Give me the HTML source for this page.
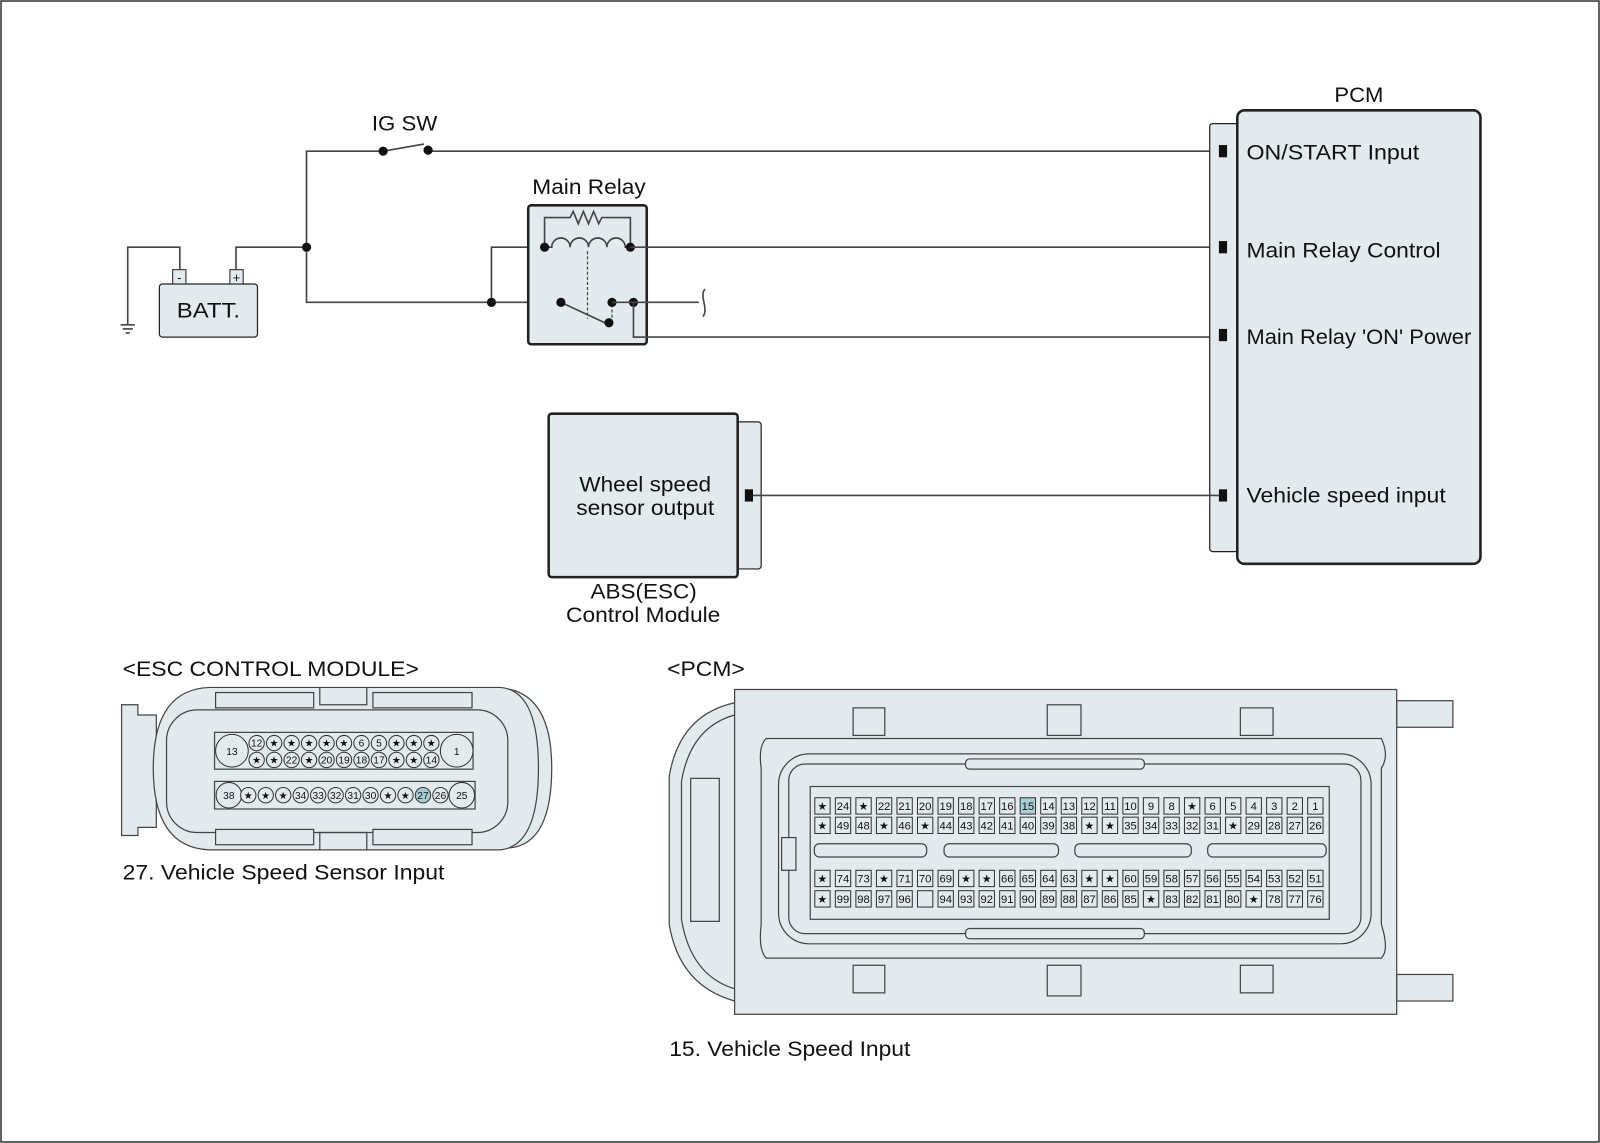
<!DOCTYPE html>
<html><head><meta charset="utf-8"><style>
html,body{margin:0;padding:0;background:#fff}
svg{display:block}
text{font-family:"Liberation Sans",Arial,sans-serif;fill:#111}
.w{stroke:#444;stroke-width:1.6;fill:none}
.b{fill:#e3eaed;stroke:#222}
.pp rect{fill:#e3eaed;stroke:#333;stroke-width:1}
.pp text{font-size:11px;text-anchor:middle}
.ep circle{fill:#e3eaed;stroke:#333;stroke-width:1}
.ep text{font-size:10px;text-anchor:middle}
.s{font-size:9px}
</style></head><body>
<svg width="1600" height="1143" viewBox="0 0 1566 1119" preserveAspectRatio="none" xmlns="http://www.w3.org/2000/svg">
<rect x="1" y="1" width="1564" height="1117" fill="#fff" stroke="#333" stroke-width="1.5"/>

<!-- wiring -->
<text x="364" y="128" font-size="21" textLength="64" lengthAdjust="spacingAndGlyphs">IG SW</text>
<polyline class="w" points="300,242 300,148 375,148"/>
<line class="w" x1="375" y1="148" x2="415" y2="141"/>
<line class="w" x1="419" y1="148" x2="1193" y2="148"/>
<circle cx="375" cy="148" r="4.5" fill="#111"/><circle cx="419" cy="147" r="4.5" fill="#111"/>

<rect class="b" x="156" y="278" width="96" height="52" rx="3" stroke-width="1.2"/>
<rect class="b" x="169" y="264" width="13" height="14" stroke-width="1"/>
<rect class="b" x="225" y="264" width="13" height="14" stroke-width="1"/>
<text x="175.5" y="276" font-size="13" text-anchor="middle">-</text>
<text x="231.5" y="276" font-size="13" text-anchor="middle">+</text>
<text x="173" y="311" font-size="21" textLength="62" lengthAdjust="spacingAndGlyphs">BATT.</text>
<polyline class="w" points="176,264 176,242 125,242 125,318"/>
<line class="w" x1="118" y1="318" x2="132" y2="318"/>
<line class="w" x1="120" y1="322" x2="130" y2="322"/>
<line class="w" x1="123" y1="326" x2="127" y2="326"/>
<polyline class="w" points="231,264 231,242 300,242 300,296 549,296"/>
<circle cx="300" cy="242" r="4.5" fill="#111"/>
<polyline class="w" points="481,296 481,242 533,242"/>
<circle cx="481" cy="296" r="4.5" fill="#111"/>

<text x="521" y="190" font-size="21" textLength="111" lengthAdjust="spacingAndGlyphs">Main Relay</text>
<rect class="b" x="517" y="201" width="116" height="136" rx="3" stroke-width="2.5"/>
<polyline class="w" points="533,242 533,213 558,213 561,207 566,219 571,207 576,219 581,207 586,219 589,213 617,213 617,242"/>
<path class="w" d="M533,242 L540,242 a9,9 0 0 1 18,0 a9,9 0 0 1 18,0 a9,9 0 0 1 18,0 a9,9 0 0 1 18,0 L617,242"/>
<line x1="575" y1="246" x2="575" y2="312" stroke="#444" stroke-width="1.2" stroke-dasharray="3,2"/>
<line x1="599" y1="298" x2="599" y2="314" stroke="#444" stroke-width="1.2" stroke-dasharray="3,2"/>
<circle cx="533" cy="242" r="4.5" fill="#111"/><circle cx="617" cy="242" r="4.5" fill="#111"/>
<line class="w" x1="617" y1="242" x2="1193" y2="242"/>
<line class="w" x1="549" y1="296" x2="592" y2="316"/>
<circle cx="549" cy="296" r="4.5" fill="#111"/><circle cx="596" cy="316" r="4.5" fill="#111"/>
<circle cx="599" cy="296" r="4.5" fill="#111"/><circle cx="620" cy="296" r="4.5" fill="#111"/>
<line class="w" x1="599" y1="296" x2="684" y2="296"/>
<path class="w" d="M690,283 C684,290 694,302 688,310"/>
<polyline class="w" points="620,296 620,330 1193,330"/>

<!-- PCM block -->
<text x="1306" y="100" font-size="21" textLength="48" lengthAdjust="spacingAndGlyphs">PCM</text>
<rect class="b" x="1184" y="121" width="40" height="419" rx="3" stroke-width="1.2"/>
<rect class="b" x="1211" y="108" width="238" height="444" rx="7" stroke-width="2.5"/>
<rect x="1193" y="142" width="8" height="12" fill="#111"/>
<rect x="1193" y="236" width="8" height="12" fill="#111"/>
<rect x="1193" y="322" width="8" height="12" fill="#111"/>
<rect x="1193" y="479" width="8" height="12" fill="#111"/>
<text x="1220" y="156" font-size="21" textLength="169" lengthAdjust="spacingAndGlyphs">ON/START Input</text>
<text x="1220" y="252" font-size="21" textLength="190" lengthAdjust="spacingAndGlyphs">Main Relay Control</text>
<text x="1220" y="337" font-size="21" textLength="220" lengthAdjust="spacingAndGlyphs">Main Relay 'ON' Power</text>
<text x="1220" y="492" font-size="21" textLength="195" lengthAdjust="spacingAndGlyphs">Vehicle speed input</text>

<!-- ABS -->
<rect class="b" x="710" y="413" width="35" height="144" rx="3" stroke-width="1.2"/>
<rect class="b" x="537" y="405" width="185" height="160" rx="3" stroke-width="2.5"/>
<text x="567" y="481" font-size="21" textLength="129" lengthAdjust="spacingAndGlyphs">Wheel speed</text>
<text x="564" y="504" font-size="21" textLength="135" lengthAdjust="spacingAndGlyphs">sensor output</text>
<rect x="729" y="479" width="8" height="12" fill="#111"/>
<line class="w" x1="737" y1="485" x2="1193" y2="485"/>
<text x="578" y="586" font-size="21" textLength="104" lengthAdjust="spacingAndGlyphs">ABS(ESC)</text>
<text x="554" y="609" font-size="21" textLength="151" lengthAdjust="spacingAndGlyphs">Control Module</text>

<!-- ESC connector -->
<text x="120" y="662" font-size="21" textLength="290" lengthAdjust="spacingAndGlyphs">&lt;ESC CONTROL MODULE&gt;</text>
<g stroke="#444" stroke-width="1.2" fill="#e3eaed">
<path d="M119,690 H135 V700 H153 V810 H135 V818 H119 Z"/>
<path d="M470,675 H500 Q540,685 540,752 Q540,825 500,830 H470 Z"/>
<path d="M205,673 H490 Q527,676 527,752 Q527,828 490,832 H205 Q150,830 150,752 Q150,675 205,673 Z"/>
<rect x="163" y="695" width="334" height="120" rx="30"/>
<rect x="211" y="678" width="96" height="15"/>
<rect x="365" y="678" width="97" height="15"/>
<rect x="211" y="812" width="96" height="15"/>
<rect x="365" y="812" width="97" height="15"/>
<path d="M313,673 V690 H359 V673" fill="none"/>
<path d="M313,832 V815 H359 V832" fill="none"/>
<rect x="210" y="717" width="253" height="36"/>
<rect x="210" y="765" width="255" height="27"/>
</g>
<g class="ep">
<circle cx="227" cy="735" r="16"/><text x="227" y="739">13</text>
<circle cx="447" cy="735" r="16"/><text x="447" y="739">1</text>
<circle cx="224" cy="778.5" r="12.5"/><text x="224" y="782">38</text>
<circle cx="452" cy="778.5" r="12.5"/><text x="452" y="782">25</text>
<circle cx="251.2" cy="727.5" r="7.5"/><text x="251.2" y="731">12</text>
<circle cx="268.3" cy="727.5" r="7.5"/><text class="s" x="268.3" y="731">★</text>
<circle cx="285.4" cy="727.5" r="7.5"/><text class="s" x="285.4" y="731">★</text>
<circle cx="302.5" cy="727.5" r="7.5"/><text class="s" x="302.5" y="731">★</text>
<circle cx="319.6" cy="727.5" r="7.5"/><text class="s" x="319.6" y="731">★</text>
<circle cx="336.7" cy="727.5" r="7.5"/><text class="s" x="336.7" y="731">★</text>
<circle cx="353.8" cy="727.5" r="7.5"/><text x="353.8" y="731">6</text>
<circle cx="370.9" cy="727.5" r="7.5"/><text x="370.9" y="731">5</text>
<circle cx="388" cy="727.5" r="7.5"/><text class="s" x="388" y="731">★</text>
<circle cx="405.1" cy="727.5" r="7.5"/><text class="s" x="405.1" y="731">★</text>
<circle cx="422.2" cy="727.5" r="7.5"/><text class="s" x="422.2" y="731">★</text>
<circle cx="251.2" cy="744" r="7.5"/><text class="s" x="251.2" y="747.5">★</text>
<circle cx="268.3" cy="744" r="7.5"/><text class="s" x="268.3" y="747.5">★</text>
<circle cx="285.4" cy="744" r="7.5"/><text x="285.4" y="747.5">22</text>
<circle cx="302.5" cy="744" r="7.5"/><text class="s" x="302.5" y="747.5">★</text>
<circle cx="319.6" cy="744" r="7.5"/><text x="319.6" y="747.5">20</text>
<circle cx="336.7" cy="744" r="7.5"/><text x="336.7" y="747.5">19</text>
<circle cx="353.8" cy="744" r="7.5"/><text x="353.8" y="747.5">18</text>
<circle cx="370.9" cy="744" r="7.5"/><text x="370.9" y="747.5">17</text>
<circle cx="388" cy="744" r="7.5"/><text class="s" x="388" y="747.5">★</text>
<circle cx="405.1" cy="744" r="7.5"/><text class="s" x="405.1" y="747.5">★</text>
<circle cx="422.2" cy="744" r="7.5"/><text x="422.2" y="747.5">14</text>
<circle cx="243" cy="778.5" r="7.5"/><text class="s" x="243" y="782">★</text>
<circle cx="260.1" cy="778.5" r="7.5"/><text class="s" x="260.1" y="782">★</text>
<circle cx="277.2" cy="778.5" r="7.5"/><text class="s" x="277.2" y="782">★</text>
<circle cx="294.3" cy="778.5" r="7.5"/><text x="294.3" y="782">34</text>
<circle cx="311.4" cy="778.5" r="7.5"/><text x="311.4" y="782">33</text>
<circle cx="328.5" cy="778.5" r="7.5"/><text x="328.5" y="782">32</text>
<circle cx="345.6" cy="778.5" r="7.5"/><text x="345.6" y="782">31</text>
<circle cx="362.7" cy="778.5" r="7.5"/><text x="362.7" y="782">30</text>
<circle cx="379.8" cy="778.5" r="7.5"/><text class="s" x="379.8" y="782">★</text>
<circle cx="396.9" cy="778.5" r="7.5"/><text class="s" x="396.9" y="782">★</text>
<circle cx="414" cy="778.5" r="7.5" style="fill:#a9cdd6"/><text x="414" y="782">27</text>
<circle cx="431.1" cy="778.5" r="7.5"/><text x="431.1" y="782">26</text>
</g>
<text x="120" y="861" font-size="21" textLength="315" lengthAdjust="spacingAndGlyphs">27. Vehicle Speed Sensor Input</text>

<!-- PCM connector -->
<text x="653" y="662" font-size="21" textLength="76" lengthAdjust="spacingAndGlyphs">&lt;PCM&gt;</text>
<g stroke="#444" stroke-width="1.2" fill="#e3eaed">
<path d="M719,688 Q665,700 655,760 V905 Q665,965 719,980 Z"/>
<path d="M719,700 Q676,712 667,765 V900 Q676,955 719,968" fill="none"/>
<rect x="676" y="762" width="28" height="140" fill="none"/>
<rect x="1367" y="686" width="55" height="26"/>
<rect x="1367" y="954" width="55" height="26"/>
<rect x="719" y="675" width="648" height="318"/>
<path d="M750,723 H1352 Q1360,740 1352,752 V905 Q1360,930 1352,938 H750 Q742,930 745,905 V752 Q742,730 750,723 Z"/>
<rect x="762" y="738" width="580" height="186" rx="30" fill="none"/>
<rect x="772" y="748" width="560" height="166" rx="16" fill="none"/>
<rect x="835" y="693" width="31" height="27"/><rect x="1025" y="690" width="33" height="30"/><rect x="1214" y="693" width="32" height="27"/>
<rect x="835" y="945" width="31" height="27"/><rect x="1025" y="945" width="33" height="30"/><rect x="1214" y="945" width="32" height="27"/>
<rect x="945" y="743" width="175" height="10" rx="4"/>
<rect x="945" y="909" width="175" height="10" rx="4"/>
<rect x="793" y="770" width="508" height="130"/>
<rect x="797" y="826" width="110" height="13" rx="5"/>
<rect x="924" y="826" width="112" height="13" rx="5"/>
<rect x="1052" y="826" width="114" height="13" rx="5"/>
<rect x="1182" y="826" width="116" height="13" rx="5"/>
<rect x="765" y="820" width="14" height="32"/>
</g>
<g class="pp">
<g transform="translate(0,781)">
<rect x="797.5" width="15" height="16"/><text class="s" x="805" y="12">★</text>
<rect x="817.6" width="15" height="16"/><text x="825.1" y="12">24</text>
<rect x="837.7" width="15" height="16"/><text class="s" x="845.2" y="12">★</text>
<rect x="857.8" width="15" height="16"/><text x="865.3" y="12">22</text>
<rect x="877.9" width="15" height="16"/><text x="885.4" y="12">21</text>
<rect x="898" width="15" height="16"/><text x="905.5" y="12">20</text>
<rect x="918.1" width="15" height="16"/><text x="925.6" y="12">19</text>
<rect x="938.2" width="15" height="16"/><text x="945.7" y="12">18</text>
<rect x="958.3" width="15" height="16"/><text x="965.8" y="12">17</text>
<rect x="978.4" width="15" height="16"/><text x="985.9" y="12">16</text>
<rect x="998.5" width="15" height="16" style="fill:#a9cdd6"/><text x="1006" y="12">15</text>
<rect x="1018.6" width="15" height="16"/><text x="1026.1" y="12">14</text>
<rect x="1038.7" width="15" height="16"/><text x="1046.2" y="12">13</text>
<rect x="1058.8" width="15" height="16"/><text x="1066.3" y="12">12</text>
<rect x="1078.9" width="15" height="16"/><text x="1086.4" y="12">11</text>
<rect x="1099" width="15" height="16"/><text x="1106.5" y="12">10</text>
<rect x="1119.1" width="15" height="16"/><text x="1126.6" y="12">9</text>
<rect x="1139.2" width="15" height="16"/><text x="1146.7" y="12">8</text>
<rect x="1159.3" width="15" height="16"/><text class="s" x="1166.8" y="12">★</text>
<rect x="1179.4" width="15" height="16"/><text x="1186.9" y="12">6</text>
<rect x="1199.5" width="15" height="16"/><text x="1207" y="12">5</text>
<rect x="1219.6" width="15" height="16"/><text x="1227.1" y="12">4</text>
<rect x="1239.7" width="15" height="16"/><text x="1247.2" y="12">3</text>
<rect x="1259.8" width="15" height="16"/><text x="1267.3" y="12">2</text>
<rect x="1279.9" width="15" height="16"/><text x="1287.4" y="12">1</text>
</g>
<g transform="translate(0,800)">
<rect x="797.5" width="15" height="16"/><text class="s" x="805" y="12">★</text>
<rect x="817.6" width="15" height="16"/><text x="825.1" y="12">49</text>
<rect x="837.7" width="15" height="16"/><text x="845.2" y="12">48</text>
<rect x="857.8" width="15" height="16"/><text class="s" x="865.3" y="12">★</text>
<rect x="877.9" width="15" height="16"/><text x="885.4" y="12">46</text>
<rect x="898" width="15" height="16"/><text class="s" x="905.5" y="12">★</text>
<rect x="918.1" width="15" height="16"/><text x="925.6" y="12">44</text>
<rect x="938.2" width="15" height="16"/><text x="945.7" y="12">43</text>
<rect x="958.3" width="15" height="16"/><text x="965.8" y="12">42</text>
<rect x="978.4" width="15" height="16"/><text x="985.9" y="12">41</text>
<rect x="998.5" width="15" height="16"/><text x="1006" y="12">40</text>
<rect x="1018.6" width="15" height="16"/><text x="1026.1" y="12">39</text>
<rect x="1038.7" width="15" height="16"/><text x="1046.2" y="12">38</text>
<rect x="1058.8" width="15" height="16"/><text class="s" x="1066.3" y="12">★</text>
<rect x="1078.9" width="15" height="16"/><text class="s" x="1086.4" y="12">★</text>
<rect x="1099" width="15" height="16"/><text x="1106.5" y="12">35</text>
<rect x="1119.1" width="15" height="16"/><text x="1126.6" y="12">34</text>
<rect x="1139.2" width="15" height="16"/><text x="1146.7" y="12">33</text>
<rect x="1159.3" width="15" height="16"/><text x="1166.8" y="12">32</text>
<rect x="1179.4" width="15" height="16"/><text x="1186.9" y="12">31</text>
<rect x="1199.5" width="15" height="16"/><text class="s" x="1207" y="12">★</text>
<rect x="1219.6" width="15" height="16"/><text x="1227.1" y="12">29</text>
<rect x="1239.7" width="15" height="16"/><text x="1247.2" y="12">28</text>
<rect x="1259.8" width="15" height="16"/><text x="1267.3" y="12">27</text>
<rect x="1279.9" width="15" height="16"/><text x="1287.4" y="12">26</text>
</g>
<g transform="translate(0,852)">
<rect x="797.5" width="15" height="16"/><text class="s" x="805" y="12">★</text>
<rect x="817.6" width="15" height="16"/><text x="825.1" y="12">74</text>
<rect x="837.7" width="15" height="16"/><text x="845.2" y="12">73</text>
<rect x="857.8" width="15" height="16"/><text class="s" x="865.3" y="12">★</text>
<rect x="877.9" width="15" height="16"/><text x="885.4" y="12">71</text>
<rect x="898" width="15" height="16"/><text x="905.5" y="12">70</text>
<rect x="918.1" width="15" height="16"/><text x="925.6" y="12">69</text>
<rect x="938.2" width="15" height="16"/><text class="s" x="945.7" y="12">★</text>
<rect x="958.3" width="15" height="16"/><text class="s" x="965.8" y="12">★</text>
<rect x="978.4" width="15" height="16"/><text x="985.9" y="12">66</text>
<rect x="998.5" width="15" height="16"/><text x="1006" y="12">65</text>
<rect x="1018.6" width="15" height="16"/><text x="1026.1" y="12">64</text>
<rect x="1038.7" width="15" height="16"/><text x="1046.2" y="12">63</text>
<rect x="1058.8" width="15" height="16"/><text class="s" x="1066.3" y="12">★</text>
<rect x="1078.9" width="15" height="16"/><text class="s" x="1086.4" y="12">★</text>
<rect x="1099" width="15" height="16"/><text x="1106.5" y="12">60</text>
<rect x="1119.1" width="15" height="16"/><text x="1126.6" y="12">59</text>
<rect x="1139.2" width="15" height="16"/><text x="1146.7" y="12">58</text>
<rect x="1159.3" width="15" height="16"/><text x="1166.8" y="12">57</text>
<rect x="1179.4" width="15" height="16"/><text x="1186.9" y="12">56</text>
<rect x="1199.5" width="15" height="16"/><text x="1207" y="12">55</text>
<rect x="1219.6" width="15" height="16"/><text x="1227.1" y="12">54</text>
<rect x="1239.7" width="15" height="16"/><text x="1247.2" y="12">53</text>
<rect x="1259.8" width="15" height="16"/><text x="1267.3" y="12">52</text>
<rect x="1279.9" width="15" height="16"/><text x="1287.4" y="12">51</text>
</g>
<g transform="translate(0,872)">
<rect x="797.5" width="15" height="16"/><text class="s" x="805" y="12">★</text>
<rect x="817.6" width="15" height="16"/><text x="825.1" y="12">99</text>
<rect x="837.7" width="15" height="16"/><text x="845.2" y="12">98</text>
<rect x="857.8" width="15" height="16"/><text x="865.3" y="12">97</text>
<rect x="877.9" width="15" height="16"/><text x="885.4" y="12">96</text>
<rect x="898" width="15" height="16"/>
<rect x="918.1" width="15" height="16"/><text x="925.6" y="12">94</text>
<rect x="938.2" width="15" height="16"/><text x="945.7" y="12">93</text>
<rect x="958.3" width="15" height="16"/><text x="965.8" y="12">92</text>
<rect x="978.4" width="15" height="16"/><text x="985.9" y="12">91</text>
<rect x="998.5" width="15" height="16"/><text x="1006" y="12">90</text>
<rect x="1018.6" width="15" height="16"/><text x="1026.1" y="12">89</text>
<rect x="1038.7" width="15" height="16"/><text x="1046.2" y="12">88</text>
<rect x="1058.8" width="15" height="16"/><text x="1066.3" y="12">87</text>
<rect x="1078.9" width="15" height="16"/><text x="1086.4" y="12">86</text>
<rect x="1099" width="15" height="16"/><text x="1106.5" y="12">85</text>
<rect x="1119.1" width="15" height="16"/><text class="s" x="1126.6" y="12">★</text>
<rect x="1139.2" width="15" height="16"/><text x="1146.7" y="12">83</text>
<rect x="1159.3" width="15" height="16"/><text x="1166.8" y="12">82</text>
<rect x="1179.4" width="15" height="16"/><text x="1186.9" y="12">81</text>
<rect x="1199.5" width="15" height="16"/><text x="1207" y="12">80</text>
<rect x="1219.6" width="15" height="16"/><text class="s" x="1227.1" y="12">★</text>
<rect x="1239.7" width="15" height="16"/><text x="1247.2" y="12">78</text>
<rect x="1259.8" width="15" height="16"/><text x="1267.3" y="12">77</text>
<rect x="1279.9" width="15" height="16"/><text x="1287.4" y="12">76</text>
</g>
</g>
<text x="655" y="1034" font-size="21" textLength="236" lengthAdjust="spacingAndGlyphs">15. Vehicle Speed Input</text>
</svg>
</body></html>
